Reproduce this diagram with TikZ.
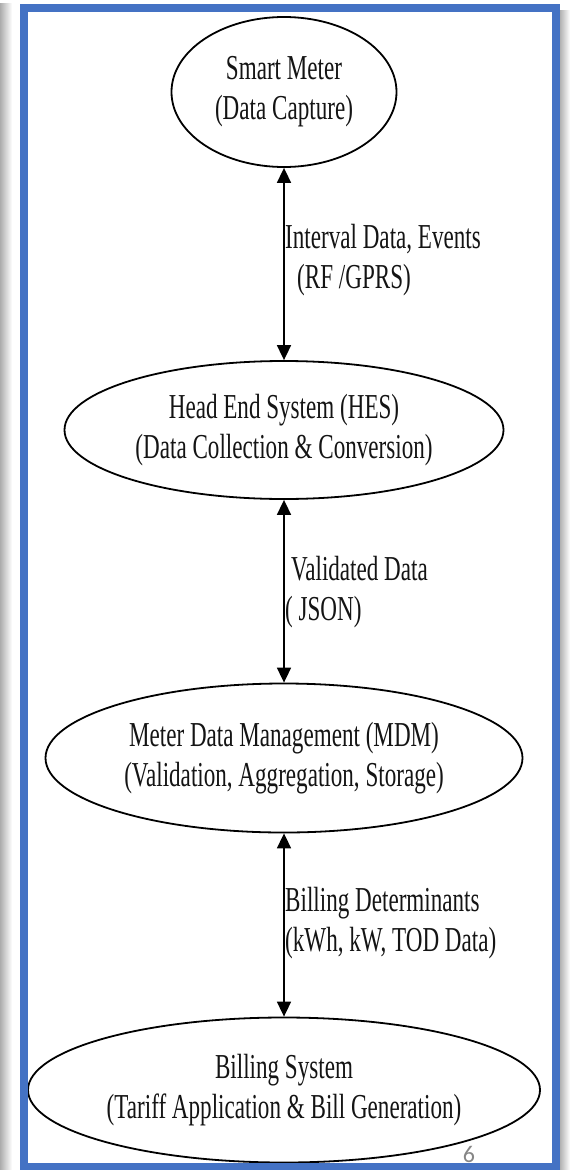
\documentclass[tikz,border=0pt]{standalone}
\usepackage{fontspec}
\setmainfont{Liberation Serif}
\newfontfamily\numfont{Carlito}
\usepackage{graphicx}
\usetikzlibrary{shapes.geometric,arrows.meta}
\definecolor{frameblue}{HTML}{4472C4}
\definecolor{inkgray}{HTML}{141414}
\newcommand{\nl}[1]{\scalebox{0.66}[1]{#1}}
\begin{document}
\begin{tikzpicture}[x=1pt,y=-1pt,
  blob/.style={ellipse,draw=black,line width=1.8pt,inner sep=0pt,align=center,text=inkgray,font=\fontsize{35}{40}\selectfont},
  lab/.style={anchor=west,align=left,inner sep=0pt,text=inkgray,font=\fontsize{35}{40}\selectfont},
  link/.style={line width=1.7pt,{Triangle[length=15pt,width=14pt]}-{Triangle[length=15pt,width=14pt]}}
]
\useasboundingbox (0,0) rectangle (570,1170);
\shade[left color=gray!65,right color=white] (0,3) rectangle (12,1170);
\shade[left color=gray!60,right color=white] (560,10) rectangle (570,1170);

\node[blob,minimum width=225pt,minimum height=150pt] (sm) at (284,92) {\nl{Smart Meter}\\\nl{(Data Capture)}};
\node[blob,minimum width=439pt,minimum height=138pt] (hes) at (284,430) {\nl{Head End System (HES)}\\\nl{(Data Collection \& Conversion)}};
\node[blob,minimum width=477pt,minimum height=149pt] (mdm) at (284,758) {\nl{Meter Data Management (MDM)}\\\nl{(Validation, Aggregation, Storage)}};
\node[blob,minimum width=512pt,minimum height=145pt] (bill) at (284,1090) {\nl{Billing System}\\\nl{(Tariff Application \& Bill Generation)}};

\draw[link] (sm.south) -- (hes.north);
\draw[link] (hes.south) -- (mdm.north);
\draw[link] (mdm.south) -- (bill.north);

\node[lab] (l1) at (285,260) {\nl{Interval Data, Events}\\\hspace*{12pt}\nl{(RF /GPRS)}};
\node[lab] (l2) at (285,592) {\hspace*{6pt}\nl{Validated Data}\\\nl{( JSON)}};
\node[lab] (l3) at (285,923) {\nl{Billing Determinants}\\\nl{(kWh, kW, TOD Data)}};

\node[text=gray!95,font=\numfont\fontsize{24}{26}\selectfont,anchor=north,inner sep=0pt] (pg) at (469,1146) {6};

\draw[frameblue,line width=8pt] (24,8) rectangle (556,1166.5);
\end{tikzpicture}
\end{document}
